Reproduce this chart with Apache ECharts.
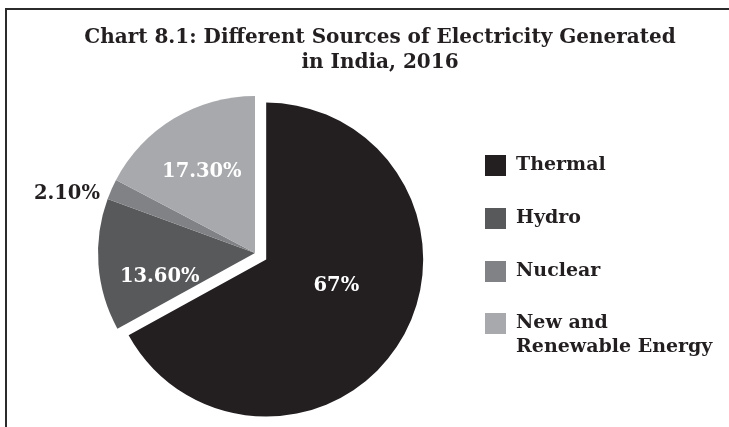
<!DOCTYPE html>
<html>
<head>
<meta charset="utf-8">
<script src="https://cdn.jsdelivr.net/npm/echarts@6/dist/echarts.min.js"></script>
<style>html,body{margin:0;padding:0;background:#fff;}#chart{width:729px;height:427px;}</style>
</head>
<body>
<div id="chart"></div>
<script>
// ---- data ----
const categories = ['Thermal', 'Hydro', 'Nuclear', 'New and Renewable Energy'];
const shares = [67, 13.6, 2.1, 17.3];
const sliceLabels = ['67%', '13.60%', '2.10%', '17.30%'];
const titleText = 'Chart 8.1: Different Sources of Electricity Generated\nin India, 2016';

const colors = ['#231f20', '#58595b', '#808285', '#a7a9ac'];
const serif = '"DejaVu Serif", serif';
const nudges = [[0, -15], [-14, 18], [0, 7], [-11, -11]];

const chart = echarts.init(document.getElementById('chart'), null, {renderer: 'canvas'});
chart.setOption({
  backgroundColor: '#ffffff',
  animation: false,
  color: colors,
  title: {
    text: titleText,
    left: 375,
    top: 20,
    textAlign: 'center',
    textStyle: {fontFamily: serif, fontWeight: 'bold', fontSize: 20, lineHeight: 25, color: '#231f20'}
  },
  legend: [{
    data: categories.slice(0, 3),
    orient: 'vertical',
    left: 485,
    top: 155,
    padding: 0,
    itemWidth: 21,
    itemHeight: 21,
    itemGap: 32,
    icon: 'rect',
    selectedMode: false,
    textStyle: {fontFamily: serif, fontWeight: 'bold', fontSize: 19, lineHeight: 20, color: '#231f20', padding: [0, 0, 0, 5]}
  }, {
    data: categories.slice(3),
    orient: 'vertical',
    left: 485,
    top: 287.5,
    padding: 0,
    itemWidth: 21,
    itemHeight: 21,
    icon: 'rect',
    selectedMode: false,
    formatter: function (name) { return '\n' + name.replace('New and ', 'New and\n'); },
    textStyle: {fontFamily: serif, fontWeight: 'bold', fontSize: 19, lineHeight: 24, color: '#231f20', padding: [0, 0, 0, 5]}
  }],
  graphic: [{
    type: 'polyline',
    shape: {points: [[6, 427], [6, 9], [729, 9]]},
    style: {stroke: '#2b2b2b', lineWidth: 2, fill: null},
    silent: true
  }],
  series: [{
    type: 'pie',
    center: [255, 253],
    radius: 157,
    startAngle: 90,
    clockwise: true,
    selectedMode: 'single',
    selectedOffset: 13,
    avoidLabelOverlap: false,
    emphasis: {disabled: true},
    itemStyle: {borderWidth: 0},
    label: {
      show: true,
      position: 'inside',
      fontFamily: serif,
      fontWeight: 'bold',
      fontSize: 19.5,
      color: '#ffffff',
      formatter: function (p) { return sliceLabels[p.dataIndex]; }
    },
    labelLine: {show: false, length: 5, length2: 2},
    labelLayout: function (p) {
      const n = nudges[p.dataIndex];
      return {dx: n[0], dy: n[1]};
    },
    data: categories.map(function (c, i) {
      const d = {name: c, value: shares[i]};
      if (i === 0) d.selected = true;
      if (i === 2) d.label = {position: 'outside', color: '#231f20'};
      return d;
    })
  }]
});
</script>
</body>
</html>
